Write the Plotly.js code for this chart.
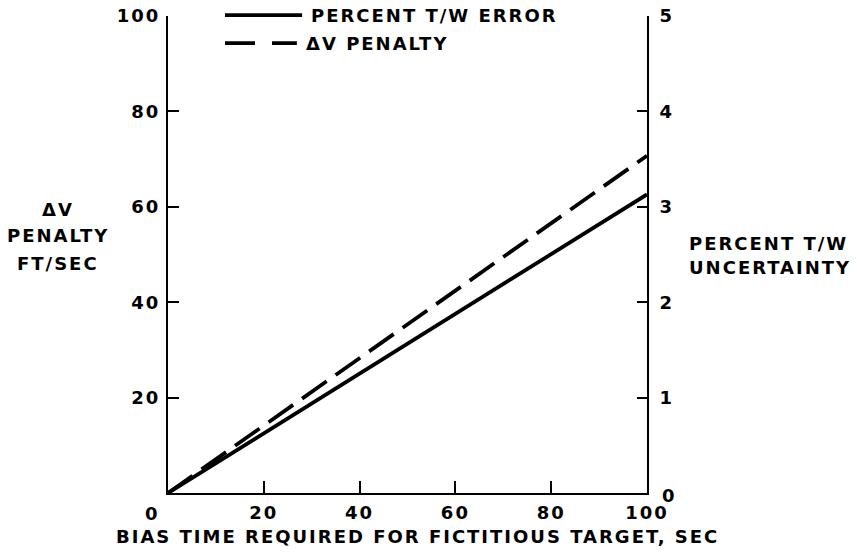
<!DOCTYPE html>
<html>
<head>
<meta charset="utf-8">
<script src="https://cdn.plot.ly/plotly-3.0.1.min.js"></script>
<style>
  html, body { margin: 0; padding: 0; background: #fff; }
  #chart { width: 857px; height: 559px; }
  text { letter-spacing: 2px; }
</style>
</head>
<body>
<div id="chart"></div>
<script>
// ---- data ----
const biasTime = [0, 100];                 // sec
const twErrorPct = [0, 3.13];              // percent T/W error (right axis)
const dvPenalty = [0, 70.7];               // ft/sec (left axis)

const leftTicks = [20, 40, 60, 80, 100];
const rightTicks = [1, 2, 3, 4, 5];
const xTicks = [20, 40, 60, 80, 100];

const legendNames = ['PERCENT T/W ERROR', '\u0394V PENALTY'];
const leftTitle = ['\u0394V', 'PENALTY', 'FT/SEC'];
const rightTitle = ['PERCENT T/W', 'UNCERTAINTY'];
const xTitle = 'BIAS TIME REQUIRED FOR FICTITIOUS TARGET, SEC';

const FONT = 'DejaVu Sans, sans-serif';
const fnt = (s) => ({family: FONT, size: s, color: '#000', weight: 'bold'});

const traces = [
  {x: biasTime, y: twErrorPct, yaxis: 'y2', mode: 'lines', name: legendNames[0],
   line: {color: '#000', width: 3.8}},
  {x: biasTime, y: dvPenalty, yaxis: 'y', mode: 'lines', name: legendNames[1],
   line: {color: '#000', width: 3.8, dash: '30px,11px'}}
];

const ann = (x, y, text, extra) => Object.assign({
  xref: 'paper', yref: 'paper', x: x, y: y, xanchor: 'center', yanchor: 'middle',
  text: text, showarrow: false, font: fnt(18)
}, extra || {});

const layout = {
  width: 857, height: 559,
  margin: {l: 168, r: 210, t: 16, b: 66},
  paper_bgcolor: '#fff', plot_bgcolor: '#fff',
  showlegend: false,
  font: fnt(18),
  xaxis: {
    range: [0, 100], tickvals: xTicks, ticktext: xTicks.map(String),
    ticks: 'inside', ticklen: 12, tickwidth: 2, tickcolor: '#000',
    showline: true, linecolor: '#000', linewidth: 2, showgrid: false, zeroline: false,
    tickfont: fnt(18), ticklabelstandoff: 2
  },
  yaxis: {
    range: [0, 100], tickvals: leftTicks, ticktext: leftTicks.map(String),
    ticks: 'inside', ticklen: 11, tickwidth: 2, tickcolor: '#000',
    showline: true, linecolor: '#000', linewidth: 2, showgrid: false, zeroline: false,
    tickfont: fnt(18), ticklabelstandoff: 2
  },
  yaxis2: {
    range: [0, 5], overlaying: 'y', side: 'right',
    tickvals: rightTicks, ticktext: rightTicks.map(String),
    ticks: 'inside', ticklen: 10, tickwidth: 2, tickcolor: '#000',
    showline: true, linecolor: '#000', linewidth: 2, showgrid: false, zeroline: false,
    tickfont: fnt(18), ticklabelstandoff: 7
  },
  shapes: [
    {type: 'line', xref: 'paper', yref: 'paper', x0: 0.119, x1: 0.280, y0: 1.002, y1: 1.002,
     line: {color: '#000', width: 3.8}},
    {type: 'line', xref: 'paper', yref: 'paper', x0: 0.119, x1: 0.269, y0: 0.943, y1: 0.943,
     line: {color: '#000', width: 3.8, dash: '30px,17px'}}
  ],
  annotations: [
    ann(0.294, 1.002, legendNames[0], {xanchor: 'left'}),
    ann(0.284, 0.943, legendNames[1], {xanchor: 'left'}),
    ann(-0.2296, 0.595, leftTitle[0]),
    ann(-0.2296, 0.539, leftTitle[1]),
    ann(-0.2296, 0.482, leftTitle[2]),
    ann(1.0835, 0.524, rightTitle[0], {xanchor: 'left'}),
    ann(1.0835, 0.472, rightTitle[1], {xanchor: 'left'}),
    ann(0.52, -0.092, xTitle),
    {xref: 'x', yref: 'y', x: 0, y: 0, xanchor: 'center', yanchor: 'middle',
     text: '0', showarrow: false, font: fnt(18), xshift: -16, yshift: -20},
    {xref: 'paper', yref: 'y', x: 1, y: 0, xanchor: 'left', yanchor: 'middle',
     text: '0', showarrow: false, font: fnt(18), xshift: 13, yshift: -2}
  ]
};

Plotly.newPlot('chart', traces, layout, {displayModeBar: false, staticPlot: true});
</script>
</body>
</html>
